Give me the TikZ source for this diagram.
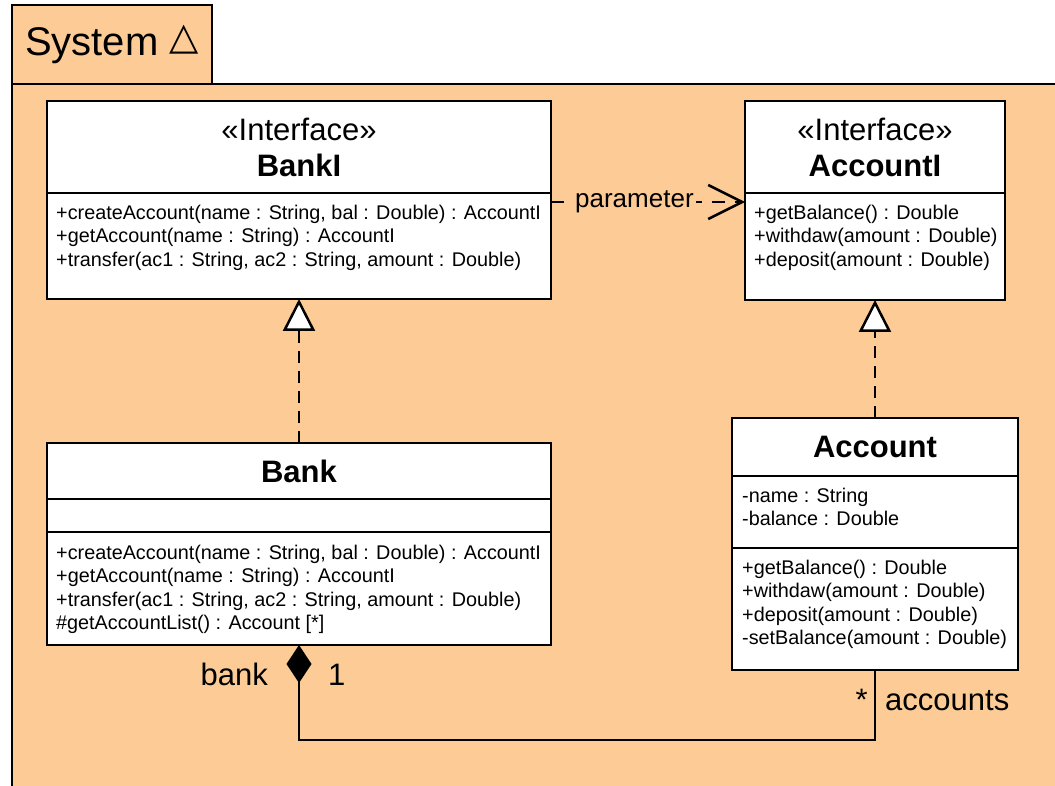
\documentclass[tikz,border=0pt]{standalone}
\usepackage{fontspec}
\setmainfont{Liberation Sans}
\newfontfamily\symfont{DejaVu Sans}
\usetikzlibrary{arrows.meta, positioning}
\definecolor{pkgpeach}{RGB}{252, 203, 150}
\definecolor{textdark}{RGB}{0, 0, 0}

\begin{document}
\begin{tikzpicture}[
    x=1pt, y=-1pt,
    pkgbox/.style={rectangle, draw=textdark, fill=pkgpeach, line width=2.7pt, anchor=north west, inner sep=0pt, outer sep=0pt},
    classbox/.style={rectangle, draw=textdark, fill=white, line width=2.7pt, anchor=north west, inner sep=0pt, outer sep=0pt},
    classtitle/.style={classbox, align=center, font=\fontsize{31}{36}\selectfont},
    members/.style={anchor=north west, align=left, inner sep=0pt, font=\fontsize{19.8}{23.4}\selectfont, color=textdark},
    endlabel/.style={inner sep=0pt, font=\fontsize{31}{36}\selectfont, color=textdark},
    realize/.style={-{Triangle[length=32pt, width=32pt, fill=white]}, dash pattern=on 12pt off 8pt, line width=2.5pt, color=textdark},
    depend/.style={-{Straight Barb[length=34pt, width=34pt]}, dash pattern=on 13pt off 10pt, line width=2.5pt, color=textdark},
    compose/.style={{Diamond[length=38pt, width=25pt]}-, line width=2.5pt, color=textdark},
]
\useasboundingbox (0,0) rectangle (1055,786);

% Package frame
\node[pkgbox, minimum width=1070pt, minimum height=720pt] (system) at (12,84) {};
\node[pkgbox, minimum width=200pt, minimum height=79pt, font=\fontsize{40}{48}\selectfont] (tab) at (12,5) {System \raisebox{6pt}{\symfont\fontsize{38}{40}\selectfont △}};

% BankI
\node[classtitle, minimum width=504pt, minimum height=92pt] (banki) at (47,101) {«Interface»\\\textbf{BankI}};
\node[classbox, minimum width=504pt, minimum height=106pt] (bankiops) at (banki.south west) {};
\node[members] at ([shift={(9,12)}]bankiops.north west) {+createAccount(name : String, bal : Double) : AccountI\\+getAccount(name : String) : AccountI\\+transfer(ac1 : String, ac2 : String, amount : Double)};

% AccountI
\node[classtitle, minimum width=260pt, minimum height=92pt] (accounti) at (745,101) {«Interface»\\\textbf{AccountI}};
\node[classbox, minimum width=260pt, minimum height=107pt] (accountiops) at (accounti.south west) {};
\node[members] at ([shift={(9,12)}]accountiops.north west) {+getBalance() : Double\\+withdaw(amount : Double)\\+deposit(amount : Double)};

% Bank
\node[classtitle, minimum width=504pt, minimum height=56pt] (bank) at (47,443) {\textbf{Bank}};
\node[classbox, minimum width=504pt, minimum height=33pt] (bankattrs) at (bank.south west) {};
\node[classbox, minimum width=504pt, minimum height=113pt] (bankops) at (bankattrs.south west) {};
\node[members] at ([shift={(9,13)}]bankops.north west) {+createAccount(name : String, bal : Double) : AccountI\\+getAccount(name : String) : AccountI\\+transfer(ac1 : String, ac2 : String, amount : Double)\\\#getAccountList() : Account [*]};

% Account
\node[classtitle, minimum width=286pt, minimum height=58pt] (account) at (732,418) {\textbf{Account}};
\node[classbox, minimum width=286pt, minimum height=72pt] (accountattrs) at (account.south west) {};
\node[members] at ([shift={(10,12)}]accountattrs.north west) {-name : String\\-balance : Double};
\node[classbox, minimum width=286pt, minimum height=122pt] (accountops) at (accountattrs.south west) {};
\node[members] at ([shift={(10,12)}]accountops.north west) {+getBalance() : Double\\+withdaw(amount : Double)\\+deposit(amount : Double)\\-setBalance(amount : Double)};

% Connectors
\draw[realize] (bank.north) -- (bankiops.south);
\draw[realize] (account.north) -- (accountiops.south);
\draw[depend] ([yshift=-9pt]bankiops.north east) -- node[pos=0.43, fill=pkgpeach, inner sep=2pt, font=\fontsize{26}{30}\selectfont] (param) {parameter} ([yshift=-9pt]accountiops.north west);
\draw[compose] (bankops.south) -- ++(0,95) -| (accountops.south);

% Association ends
\node[endlabel, anchor=base east] (bankend) at (268,685) {bank};
\node[endlabel, anchor=base west] (bankmult) at (328,685) {1};
\node[endlabel, anchor=base east] (accmult) at (868,710) {*};
\node[endlabel, anchor=base west] (accend) at (885,710) {accounts};

\end{tikzpicture}
\end{document}
